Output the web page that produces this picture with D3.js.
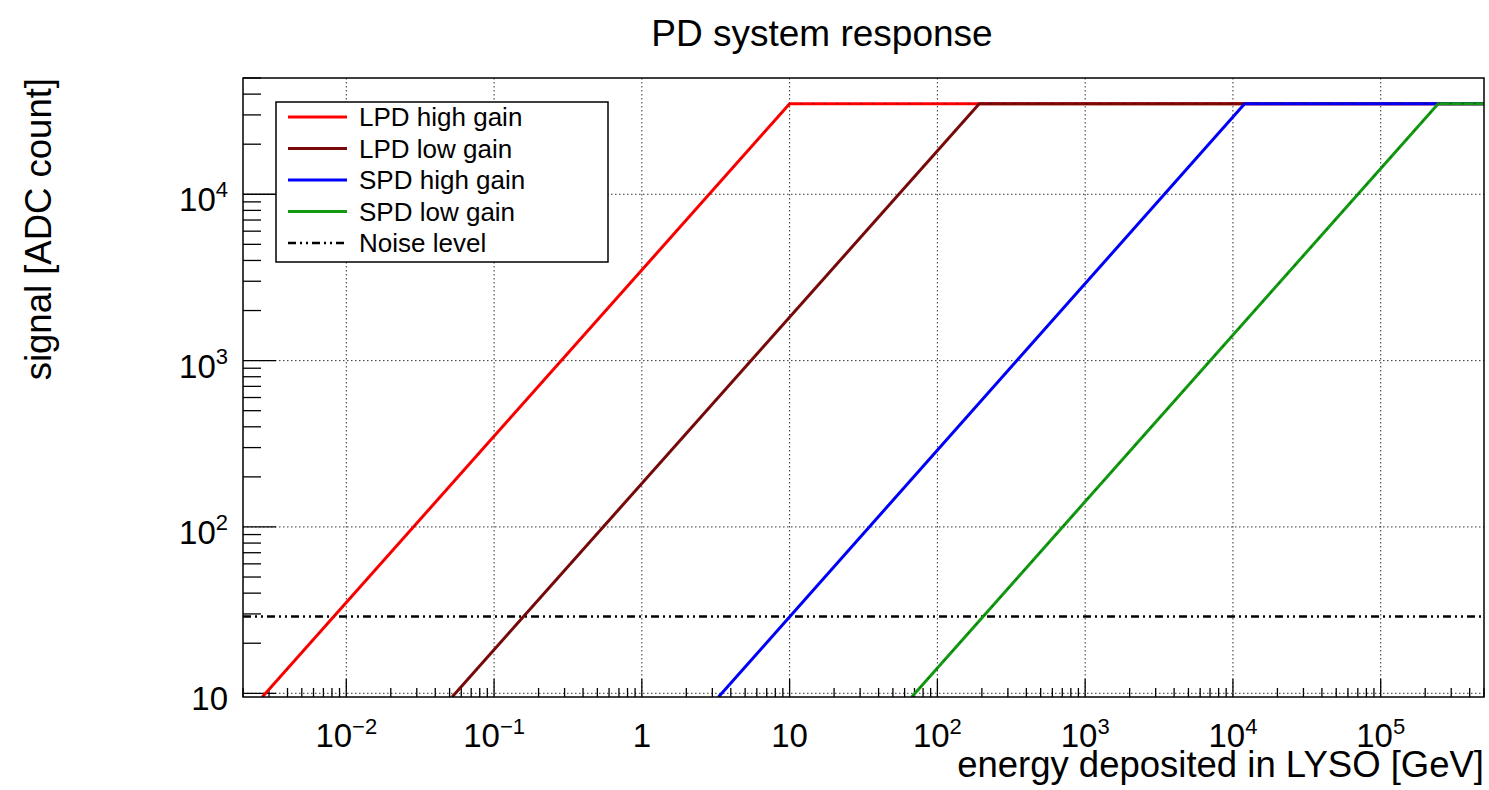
<!DOCTYPE html>
<html>
<head>
<meta charset="utf-8">
<script src="https://cdn.jsdelivr.net/npm/d3@7"></script>
<style>
  body { margin: 0; background: #fff; }
  text { font-family: "Liberation Sans", Arial, Helvetica, sans-serif; fill: #000; }
</style>
</head>
<body>
<div id="chart"></div>
<script>
// values
const energyDomain = [2e-3, 5e5]
const signalDomain = [9.5, 5e4]

const seriesNames = ['LPD high gain', 'LPD low gain', 'SPD high gain', 'SPD low gain']
const seriesColors = ['#ff0000', '#7a0a0a', '#0000ff', '#129a12']

// knee points [energy GeV, ADC count]
const lpdHigh = [[0.0027, 9.5], [10, 35000], [5e5, 35000]]
const lpdLow = [[0.052, 9.5], [192, 35000], [5e5, 35000]]
const spdHigh = [[3.3, 9.5], [12000, 35000], [5e5, 35000]]
const spdLow = [[67, 9.5], [2.45e5, 35000], [5e5, 35000]]
const seriesPoints = [lpdHigh, lpdLow, spdHigh, spdLow]

const noiseLevel = 29
const noiseLabel = 'Noise level'

const xTickExponents = [-2, -1, 0, 1, 2, 3, 4, 5]
const yTickExponents = [1, 2, 3, 4]

const margin = { top: 78, left: 243, right: 5, bottom: 93 }
const width = 1489 - margin.left - margin.right
const height = 790 - margin.top - margin.bottom

const svg = d3
  .select('#chart')
  .append('svg')
  .attr('width', 1489)
  .attr('height', 790)

const g = svg
  .append('g')
  .attr('transform', 'translate(' + margin.left + ',' + margin.top + ')')

const x = d3.scaleLog().domain(energyDomain).range([0, width])
const y = d3.scaleLog().domain(signalDomain).range([height, 0])

g.append('clipPath')
  .attr('id', 'clip')
  .append('rect')
  .attr('width', width)
  .attr('height', height)

// minor tick values for log axes
function logTicks(domain) {
  const out = []
  const lo = Math.floor(Math.log10(domain[0]))
  const hi = Math.ceil(Math.log10(domain[1]))
  for (let e = lo; e <= hi; e++) {
    for (let m = 1; m <= 9; m++) {
      const v = m * Math.pow(10, e)
      if (v >= domain[0] && v <= domain[1]) out.push({ v: v, major: m === 1 })
    }
  }
  return out
}

// grid
g.selectAll('.xgrid')
  .data(xTickExponents)
  .enter()
  .append('line')
  .attr('x1', d => x(Math.pow(10, d)))
  .attr('x2', d => x(Math.pow(10, d)))
  .attr('y1', 0)
  .attr('y2', height)
  .attr('stroke', '#333')
  .attr('stroke-width', 1)
  .attr('stroke-dasharray', '1.5,2.5')

g.selectAll('.ygrid')
  .data(yTickExponents)
  .enter()
  .append('line')
  .attr('y1', d => y(Math.pow(10, d)))
  .attr('y2', d => y(Math.pow(10, d)))
  .attr('x1', 0)
  .attr('x2', width)
  .attr('stroke', '#333')
  .attr('stroke-width', 1)
  .attr('stroke-dasharray', '1.5,2.5')

// ticks
g.selectAll('.xtick')
  .data(logTicks(energyDomain))
  .enter()
  .append('line')
  .attr('x1', d => x(d.v))
  .attr('x2', d => x(d.v))
  .attr('y1', height)
  .attr('y2', d => height - (d.major ? 18 : 9))
  .attr('stroke', '#000')
  .attr('stroke-width', 1.3)

g.selectAll('.ytick')
  .data(logTicks(signalDomain))
  .enter()
  .append('line')
  .attr('y1', d => y(d.v))
  .attr('y2', d => y(d.v))
  .attr('x1', 0)
  .attr('x2', d => (d.major ? 33 : 18))
  .attr('stroke', '#000')
  .attr('stroke-width', 1.3)

// noise level
const noiseDash = '8,4,2,4,2,4'
g.append('line')
  .attr('x1', 0)
  .attr('x2', width)
  .attr('y1', y(noiseLevel))
  .attr('y2', y(noiseLevel))
  .attr('stroke', '#000')
  .attr('stroke-width', 2.5)
  .attr('stroke-dasharray', noiseDash)

// curves
const line = d3
  .line()
  .x(d => x(d[0]))
  .y(d => y(d[1]))

const curves = g.append('g').attr('clip-path', 'url(#clip)')

seriesPoints.forEach(function(pts, i) {
  curves
    .append('path')
    .datum(pts)
    .attr('d', line)
    .attr('fill', 'none')
    .attr('stroke', seriesColors[i])
    .attr('stroke-width', 3)
  curves
    .append('path')
    .datum(pts)
    .attr('d', line)
    .attr('fill', 'none')
    .attr('stroke', '#000')
    .attr('stroke-opacity', 0.35)
    .attr('stroke-width', 1)
    .attr('stroke-dasharray', '3,9')
})

// frame
g.append('rect')
  .attr('width', width)
  .attr('height', height)
  .attr('fill', 'none')
  .attr('stroke', '#000')
  .attr('stroke-width', 1.5)

function label(parent, px, py, anchor, size) {
  return parent
    .append('text')
    .attr('transform', `translate(${px},${py})`)
    .attr('text-anchor', anchor)
    .style('font-size', size + 'px')
}

// x tick labels
xTickExponents.forEach(function(e) {
  const t = label(g, x(Math.pow(10, e)), height + 50, 'middle', 33)
  if (e === 0) t.text('1')
  else if (e === 1) t.text('10')
  else {
    t.append('tspan').text('10')
    t.append('tspan')
      .text(String(e).replace('-', '\u2212'))
      .attr('dy', -13)
      .style('font-size', '22px')
  }
})

// y tick labels
yTickExponents.forEach(function(e) {
  const t = label(g, -15, y(Math.pow(10, e)) + 17, 'end', 33)
  if (e === 1) t.text('10')
  else {
    t.append('tspan').text('10')
    t.append('tspan')
      .text(String(e))
      .attr('dy', -14)
      .style('font-size', '22px')
  }
})

// axis titles
label(g, width, height + 80, 'end', 36.5).text('energy deposited in LYSO [GeV]')

svg
  .append('text')
  .attr('transform', `translate(51,${margin.top}) rotate(-90)`)
  .attr('text-anchor', 'end')
  .style('font-size', '36.5px')
  .text('signal [ADC count]')

// title
label(svg, 822, 46, 'middle', 37).text('PD system response')

// legend
const legend = svg.append('g').attr('transform', 'translate(276,102)')

legend
  .append('rect')
  .attr('width', 332)
  .attr('height', 160)
  .attr('fill', '#fff')
  .attr('stroke', '#000')
  .attr('stroke-width', 1.5)

const legendItems = seriesNames.map((n, i) => ({ name: n, color: seriesColors[i], dash: null }))
legendItems.push({ name: noiseLabel, color: '#000', dash: noiseDash })

legend
  .selectAll('.legend')
  .data(legendItems)
  .enter()
  .append('g')
  .attr('class', 'legend')
  .attr('transform', (d, i) => `translate(0,${15 + i * 31.5})`)
  .each(function(d) {
    const row = d3.select(this)
    row.append('line')
      .attr('x1', 12)
      .attr('x2', 71)
      .attr('stroke', d.color)
      .attr('stroke-width', d.dash ? 2.5 : 3)
      .attr('stroke-dasharray', d.dash)
    label(row, 83, 9, 'start', 26).text(d.name)
  })
</script>
</body>
</html>
